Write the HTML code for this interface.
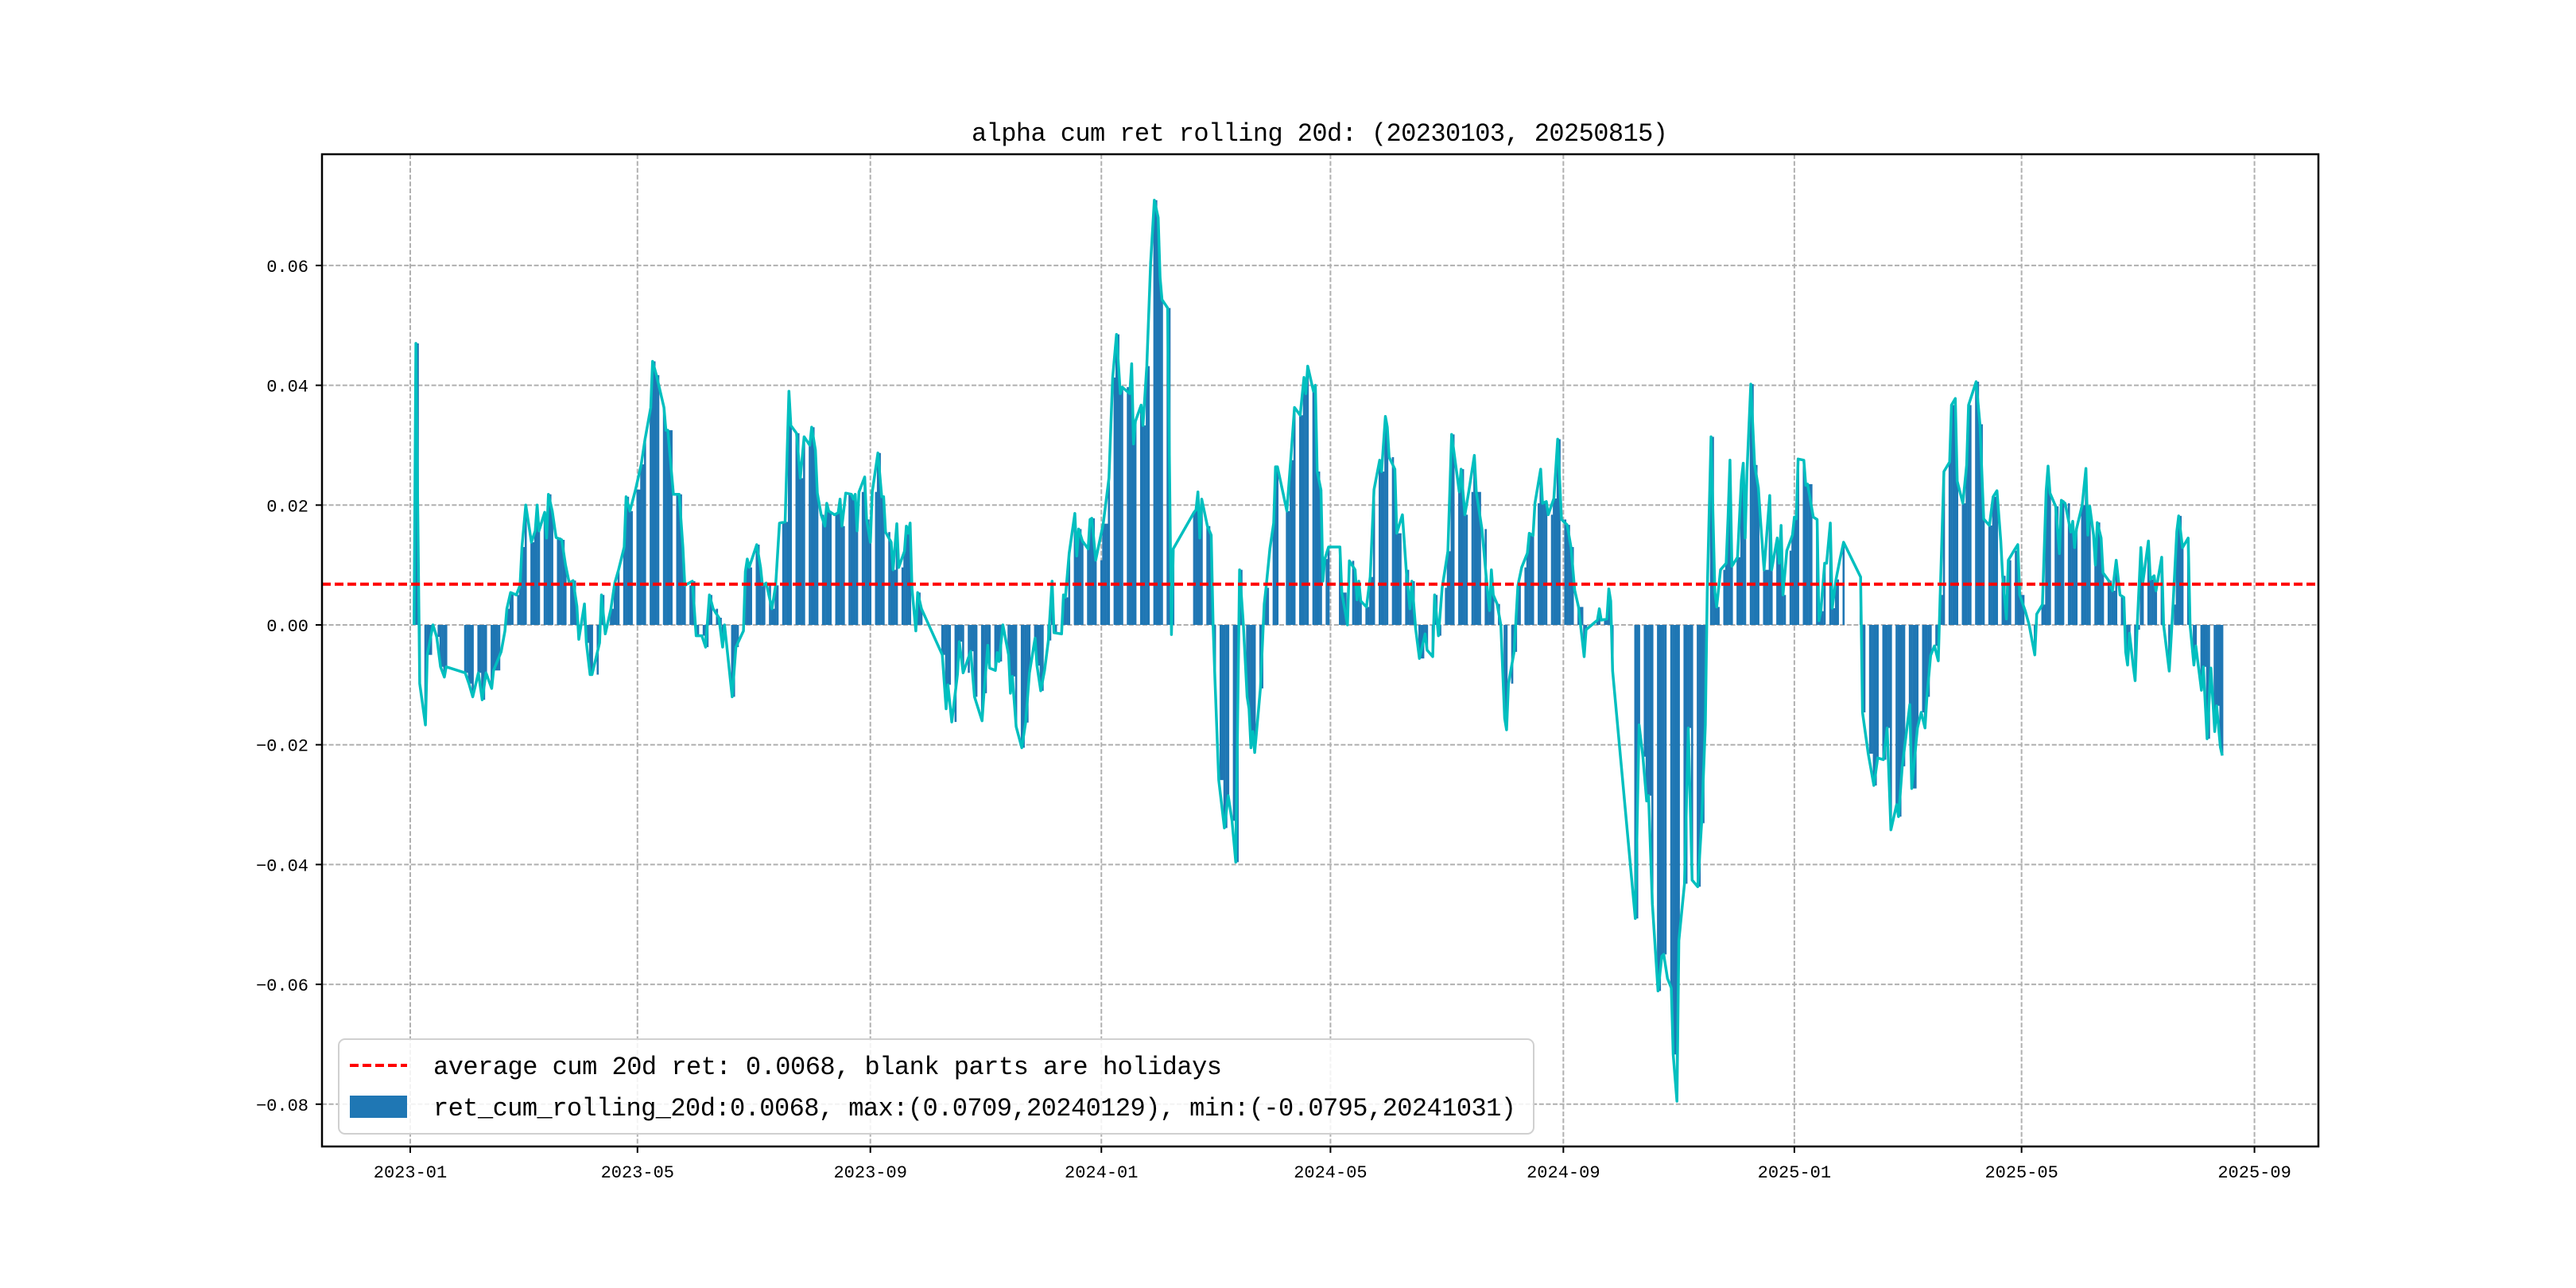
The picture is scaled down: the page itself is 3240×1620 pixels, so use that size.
<!DOCTYPE html>
<html><head><meta charset="utf-8"><style>
html,body{margin:0;padding:0;background:#fff;}
svg{display:block;}
text{font-family:"Liberation Mono","Noto Sans CJK SC",monospace;fill:#000;}
</style></head><body>
<svg id="chart" width="3240" height="1620" viewBox="0 0 3240 1620" xmlns="http://www.w3.org/2000/svg">
<rect width="3240" height="1620" fill="#fff"/>
<g id="grid"></g>
<g id="bars"></g>
<g id="lines"></g>
<rect x="405" y="194" width="2511" height="1248" fill="none" stroke="#000" stroke-width="2.5"/>
<g id="ticks"></g>
<text x="1660" y="177" font-size="32" text-anchor="middle" textLength="876">alpha cum ret rolling 20d: (20230103, 20250815)</text>
<g>
<rect x="426" y="1307" width="1503" height="119" rx="8" fill="#fff" fill-opacity="0.85" stroke="#d0d0d0" stroke-width="2"/>
<line x1="440" y1="1340" x2="512" y2="1340" stroke="#ff0000" stroke-width="4" stroke-dasharray="11,5"/>
<text x="545" y="1351" font-size="32" textLength="992">average cum 20d ret: 0.0068, blank parts are holidays</text>
<rect x="440" y="1378" width="72" height="28" fill="#1f77b4"/>
<text x="545" y="1403" font-size="32" textLength="1362">ret_cum_rolling_20d:0.0068, max:(0.0709,20240129), min:(-0.0795,20241031)</text>
</g>
</svg>
<script>
// days since 2023-01-01
const dayIdx = [2,3,5,8,9,12,14,16,18,19,29,31,33,36,38,40,43,44,48,50,51,53,56,58,59,61,64,66,67,68,71,72,73,75,77,80,82,84,86,88,89,92,93,95,96,100,101,103,106,108,110,113,114,116,119,122,124,127,128,130,134,135,136,139,142,144,145,149,151,154,156,158,160,163,165,166,170,172,176,177,178,179,183,185,186,188,191,193,195,198,200,201,204,206,208,211,212,214,215,217,219,220,221,224,226,227,228,230,233,234,235,236,237,240,241,243,244,247,249,250,251,254,255,257,258,261,262,263,264,265,267,268,270,281,283,284,286,289,290,292,296,298,302,
303,305,306,309,310,311,313,316,317,318,320,323,325,327,330,331,333,335,337,339,340,344,345,346,348,351,352,353,355,358,359,360,362,366,369,370,371,373,375,376,380,381,382,383,386,387,389,391,393,395,396,397,400,402,403,414,415,416,417,418,421,423,424,425,427,430,432,434,436,438,440,442,443,444,445,446,449,451,452,454,456,457,458,463,465,467,470,472,473,474,477,478,479,481,482,483,485,491,492,495,496,499,500,501,502,505,507,509,512,513,515,516,517,520,521,524,526,528,529,531,533,536,537,540,541,543,545,548,550,554,555,557,559,562,563,566,569,570,571,572,574,576,578,579,580,583,585,587,590,591,593,594,597,598,600,601,604,606,608,611,613,615,617,620,621,627,628,629,632,633,634,635,
647,649,651,653,654,656,659,661,662,664,666,667,669,670,673,675,677,680,682,684,685,687,689,690,692,695,696,697,698,701,703,704,705,706,708,710,712,713,715,718,719,722,723,724,725,727,730,731,732,733,736,737,738,741,743,744,745,747,748,750,751,753,755,757,766,767,770,773,775,778,780,782,785,786,788,792,793,796,798,800,801,803,805,807,808,810,813,814,816,817,820,822,823,827,829,831,834,836,838,840,841,843,844,847,849,850,853,855,858,859,862,864,865,866,869,871,872,874,877,878,879,880,883,885,886,887,889,890,891,893,894,897,899,901,903,905,906,907,908,910,911,912,914,915,918,919,921,922,925,926,929,931,933,934,936,939,940,942,943,946,947,949,951,953,954,956,957];
const retVals = [0,0.047,-0.0098,-0.0167,-0.005,0,-0.002,-0.007,-0.0087,-0.007,-0.008,-0.0098,-0.012,-0.008,-0.0125,-0.008,-0.0106,-0.0076,-0.0045,-0.001,0.0027,0.0054,0.005,0.0066,0.013,0.020,0.0138,0.0157,0.020,0.0157,0.0188,0.0145,0.0218,0.019,0.0146,0.0142,0.01,0.007,0.0074,0.0031,-0.0024,0.0035,-0.003,-0.0083,-0.0083,-0.003,0.005,-0.0015,0.0027,0.007,0.0092,0.013,0.0214,0.019,0.0226,0.0268,0.031,0.0363,0.044,0.0417,0.0363,0.0325,0.0325,0.0218,0.0218,0.013,0.0066,0.0073,-0.0018,-0.0018,-0.0037,0.005,0.0027,0.0012,-0.0037,0,-0.012,-0.0037,-0.001,0.0089,0.011,0.0096,0.0134,0.0096,0.0066,0.007,0.0027,0.0066,0.017,0.0172,0.039,0.0333,0.032,0.0245,0.0314,0.030,0.033,0.0292,0.022,0.0184,0.0165,0.0203,0.019,0.0184,0.0187,0.021,0.0165,0.022,0.0218,0.021,0.0218,0.0157,0.0222,0.0247,0.0176,0.0138,0.0222,0.0287,0.0214,0.0214,0.0155,0.0138,0.0092,0.0169,0.0096,0.0123,0.0165,0.0153,0.017,0.006,-0.001,0.0054,0.0027,-0.005,-0.014,-0.010,-0.0162,-0.0082,-0.0028,-0.0080,-0.0044,-0.012,-0.016,
-0.0114,-0.0034,-0.0072,-0.0076,-0.0046,-0.0061,0,-0.005,-0.0114,-0.0086,-0.017,-0.0205,-0.0163,-0.008,-0.0022,-0.0068,-0.011,-0.0076,-0.0026,0.0073,-0.0013,-0.0015,0.005,0.0046,0.012,0.0186,0.0115,0.016,0.014,0.0127,0.0176,0.0178,0.0108,0.0169,0.0245,0.0333,0.0413,0.0485,0.0386,0.0397,0.0386,0.0436,0.0302,0.0340,0.0367,0.0333,0.0432,0.0604,0.0709,0.068,0.058,0.0543,0.0529,-0.0016,0.0127,0.0188,0.0192,0.0222,0.0145,0.021,0.0165,0.015,0,-0.009,-0.0259,-0.0339,-0.0285,-0.0327,-0.0396,0.0092,0,-0.012,-0.014,-0.0205,-0.0178,-0.0213,-0.0106,0.0035,0.0062,0.0127,0.017,0.0264,0.0264,0.019,0.0275,0.0363,0.035,0.0413,0.0386,0.0432,0.039,0.040,0.0256,0.0225,0.0073,0.011,0.013,0.013,0.0054,0,0.0107,0.0092,0.0042,0.0073,0.004,0.003,0.008,0.0226,0.0275,0.0256,0.0348,0.033,0.028,0.026,0.0153,0.0184,0.0092,0.0027,0.0073,-0.0007,-0.0056,-0.0015,-0.0042,-0.0053,0.005,-0.0018,0.0062,0.0123,0.0318,0.0222,0.026,0.0184,0.0222,0.0283,0.0222,0.016,0.0054,0.0024,0.0092,0.005,0.0035,0,-0.0156,-0.0175,-0.0098,-0.0045,0.0066,0.0096,0.012,0.0153,0.0149,0.0203,0.026,0.0203,0.0206,0.0184,0.0211,0.031,0.0176,0.0167,0.013,0.0058,0.003,-0.0053,-0.0008,0.0008,0.0027,0.0008,0.001,0.006,0.004,-0.0077,
-0.049,-0.0167,-0.022,-0.0294,-0.0285,-0.0466,-0.0611,-0.0553,-0.0550,-0.059,-0.0606,-0.0717,-0.0795,-0.0527,-0.0432,-0.0172,-0.0426,-0.0437,-0.0331,-0.0167,0.0055,0.0314,0.0055,0.003,0.0092,0.0103,0.018,0.0275,0.0098,0.0113,0.0241,0.027,0.0145,0.0256,0.0402,0.0267,0.0229,0.018,0.0092,0.0216,0.0092,0.0145,0.0103,0.0166,0.005,0.0124,0.015,0.018,0.0177,0.0277,0.0275,0.0233,0.0235,0.018,0.0176,0.0007,0.0023,0.0103,0.0103,0.017,0.0028,0.0076,0.0108,0.0138,0.008,-0.0146,-0.0215,-0.0268,-0.0222,-0.0225,-0.0172,-0.0342,-0.030,-0.032,-0.0236,-0.0133,-0.0273,-0.0172,-0.0146,-0.0172,-0.012,-0.0051,-0.0035,-0.006,0.005,0.0256,0.0272,0.0367,0.0378,0.024,0.0203,0.0267,0.0367,0.0406,0.0335,0.0177,0.0166,0.0214,0.0224,0.014,0.0082,0.001,0.0108,0.0124,0.0134,0.005,0.0023,0,-0.005,0.0018,0.0034,0.0224,0.0265,0.022,0.0198,0.0119,0.0208,0.0203,0.0155,0.0173,0.0129,0.016,0.02,0.0261,0.015,0.0198,0.015,0.01,0.0171,0.0145,0.0087,0.0074,0.0057,0.0108,0.005,0.0046,-0.0045,-0.0067,-0.0014,-0.007,-0.0093,-0.0008,0.0129,0.007,0.014,0.0076,0.0082,0.0057,0.0113,0,-0.0077,0.0034,0.0156,0.0182,0.0129,0.0145,0,-0.0067,-0.0035,-0.0109,-0.007,-0.019,-0.0072,-0.0178,-0.0135,-0.0204,-0.0218];
const avgRet = 0.0068;
const xTickDays = [0,120,243,365,486,609,731,851,974];
const xTickLabels = ["2023-01","2023-05","2023-09","2024-01","2024-05","2024-09","2025-01","2025-05","2025-09"];
const yTickVals = [-0.08,-0.06,-0.04,-0.02,0.00,0.02,0.04,0.06];
const yTickLabels = ["\u22120.08","\u22120.06","\u22120.04","\u22120.02","0.00","0.02","0.04","0.06"];

const NS="http://www.w3.org/2000/svg";
const L=405,R=2916,T=194,B=1442;
function xs(d){return 516+d*2.3815;}
function ys(v){return 786-v*7535;}
function mk(tag,attrs,parent){const e=document.createElementNS(NS,tag);for(const k in attrs)e.setAttribute(k,attrs[k]);parent.appendChild(e);return e;}
const grid=document.getElementById('grid'),bars=document.getElementById('bars'),lines=document.getElementById('lines'),ticks=document.getElementById('ticks');
xTickDays.forEach((d,i)=>{
  const x=xs(d);
  const g=mk('line',{x1:x,x2:x,y1:T,y2:B,stroke:'#b0b0b0','stroke-width':2,'stroke-dasharray':'6,2.6'},grid);
  
  
  const t=mk('line',{x1:x,x2:x,y1:B,y2:B+8,stroke:'#000','stroke-width':2},ticks);
  
  
  const tx=mk('text',{x:x,y:1481,'font-size':22,'text-anchor':'middle'},ticks);
  tx.textContent=xTickLabels[i];
  
  
});
yTickVals.forEach((v,i)=>{
  const y=ys(v);
  const g=mk('line',{x1:L,x2:R,y1:y,y2:y,stroke:'#b0b0b0','stroke-width':2,'stroke-dasharray':'6,2.6'},grid);
  
  
  const t=mk('line',{x1:L-8,x2:L,y1:y,y2:y,stroke:'#000','stroke-width':2},ticks);
  
  
  const tx=mk('text',{x:388,y:y+8,'font-size':22,'text-anchor':'end'},ticks);
  tx.textContent=yTickLabels[i];
  
  
});
// bars: one per weekday, holding the value of the latest observation
const bw=1.1*2.3815;
for(let i=0;i<dayIdx.length;i++){
  const d0=dayIdx[i];
  const d1=(i+1<dayIdx.length && dayIdx[i+1]-d0<=4)?dayIdx[i+1]:d0+1;
  const v=retVals[i];
  for(let d=d0; d<d1; d++){
    const wd=d%7; if(wd===0||wd===6) continue;
    const x=xs(d)-bw/2, y0=ys(0), y1=ys(v);
    const b=mk('rect',{x:x,y:Math.min(y0,y1),width:bw,height:Math.abs(y1-y0),fill:'#1f77b4'},bars);
    
    
  }
}
const pts=dayIdx.map((d,i)=>xs(d).toFixed(1)+','+ys(retVals[i]).toFixed(1)).join(' ');
const pl=mk('polyline',{points:pts,fill:'none',stroke:'#00bfbf','stroke-width':3.5,'stroke-linejoin':'round'},lines);


const av=mk('line',{x1:L,x2:R,y1:ys(avgRet),y2:ys(avgRet),stroke:'#ff0000','stroke-width':4,'stroke-dasharray':'11,5'},lines);


</script>
</body></html>
